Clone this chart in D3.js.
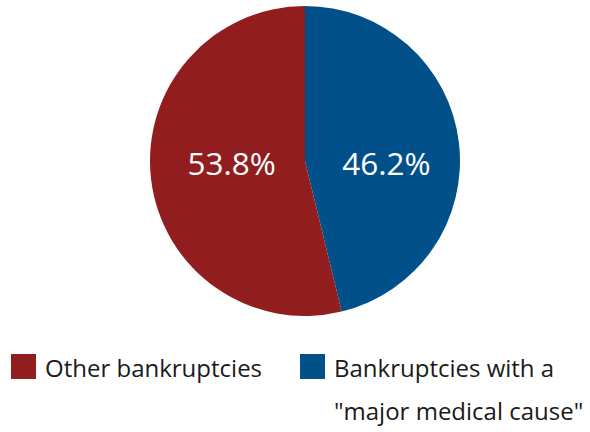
<!DOCTYPE html>
<html>
<head>
<meta charset="utf-8">
<script src="https://cdn.jsdelivr.net/npm/d3@7"></script>
<style>
  body { margin: 0; background: #fff; }
  text { font-family: "Open Sans", "Noto Sans", sans-serif; }
</style>
</head>
<body>
<div id="root"></div>
<script>
const categories = ["Bankruptcies with a \"major medical cause\"", "Other bankruptcies"];
const values = [46.2, 53.8];
const colors = ["#02508a", "#911d1f"];
const legendLines = [["Other bankruptcies"], ["Bankruptcies with a", "\"major medical cause\""]];
const legendColors = ["#911d1f", "#02508a"];

const width = 590, height = 432;
const cx = 305, cy = 161, radius = 155;

const svg = d3.select("#root").append("svg")
    .attr("width", width)
    .attr("height", height);

const pie = d3.pie().sort(null).value(d => d);
const arc = d3.arc().innerRadius(0).outerRadius(radius);
const labelArc = d3.arc().innerRadius(78).outerRadius(78);

const g = svg.append("g")
    .attr("transform", "translate(" + cx + "," + cy + ")");

const slices = g.selectAll(".slice")
    .data(pie(values))
    .enter().append("g")
    .attr("class", "slice");

slices.append("path")
    .attr("d", arc)
    .attr("fill", (d, i) => colors[i]);

// labels sit on one line, horizontally at the slice centroid
slices.append("text")
    .attr("x", d => labelArc.centroid(d)[0] + 4)
    .attr("y", 3)
    .attr("text-anchor", "middle")
    .attr("dy", "0.35em")
    .attr("font-size", 31.5)
    .attr("fill", "#fff")
    .text(d => d.data.toFixed(1) + "%");

// legend
const legend = svg.selectAll(".legend")
    .data(legendLines)
    .enter().append("g")
    .attr("class", "legend")
    .attr("transform", (d, i) => "translate(" + (i === 0 ? 11 : 300) + ",354)");

legend.append("rect")
    .attr("width", 25)
    .attr("height", 25)
    .attr("fill", (d, i) => legendColors[i]);

legend.append("text")
    .attr("x", 34)
    .attr("y", 23)
    .attr("font-size", 24)
    .attr("fill", "#1a1a1a")
    .selectAll("tspan")
    .data(d => d)
    .enter().append("tspan")
    .attr("x", 34)
    .attr("dy", (d, i) => i === 0 ? 0 : 43)
    .text(d => d);
</script>
</body>
</html>
